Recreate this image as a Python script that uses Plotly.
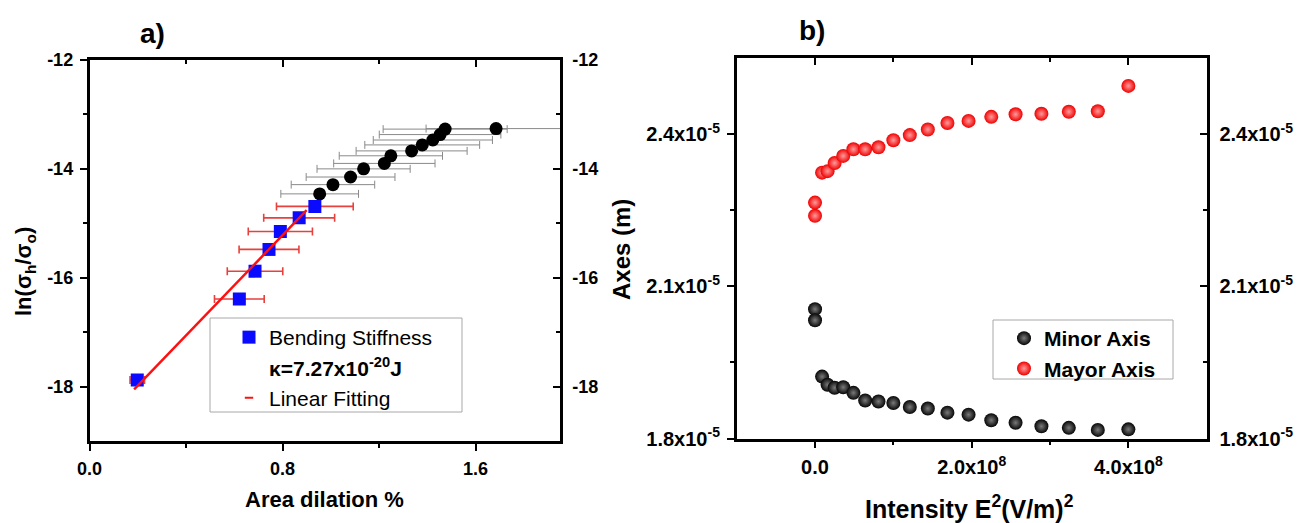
import plotly.graph_objects as go

# ---------------- panel a: area dilation vs ln(sigma_h / sigma_o) ----------------
dilation_high = [0.954, 1.009, 1.082, 1.136, 1.222, 1.249, 1.335, 1.379, 1.423, 1.453, 1.474, 1.685]
ln_sigma_high = [-14.46, -14.29, -14.15, -14.00, -13.90, -13.76, -13.67, -13.56, -13.47, -13.37, -13.27, -13.26]
dilation_high_err = [0.161, 0.173, 0.184, 0.193, 0.210, 0.214, 0.230, 0.238, 0.247, 0.252, 0.257, 0.290]

dilation_bend = [0.198, 0.621, 0.686, 0.744, 0.791, 0.869, 0.934]
ln_sigma_bend = [-17.88, -16.39, -15.88, -15.48, -15.15, -14.90, -14.69]
dilation_bend_err = [0.030, 0.103, 0.115, 0.124, 0.133, 0.147, 0.159]

fit_x = [0.185, 0.900]
fit_y = [-18.05, -14.76]

a_xticks = [0.0, 0.8, 1.6]
a_xticktext = ["0.0", "0.8", "1.6"]
a_yticks = [-18, -16, -14, -12]
a_yticktext = ["-18", "-16", "-14", "-12"]

# ---------------- panel b: ellipse axes vs field intensity ----------------
intensity_E2 = [0.0, 0.0, 9.0e6, 1.6e7, 2.5e7, 3.6e7, 4.9e7, 6.4e7, 8.1e7, 1.0e8,
                1.21e8, 1.44e8, 1.69e8, 1.96e8, 2.25e8, 2.56e8, 2.89e8, 3.24e8, 3.61e8, 4.0e8]
minor_axis = [2.055e-5, 2.033e-5, 1.922e-5, 1.906e-5, 1.900e-5, 1.901e-5, 1.890e-5, 1.875e-5,
              1.873e-5, 1.870e-5, 1.862e-5, 1.859e-5, 1.851e-5, 1.847e-5, 1.836e-5, 1.831e-5,
              1.824e-5, 1.821e-5, 1.817e-5, 1.818e-5]
major_axis = [2.239e-5, 2.265e-5, 2.324e-5, 2.327e-5, 2.343e-5, 2.357e-5, 2.370e-5, 2.370e-5,
              2.374e-5, 2.388e-5, 2.398e-5, 2.409e-5, 2.422e-5, 2.426e-5, 2.434e-5, 2.439e-5,
              2.440e-5, 2.444e-5, 2.445e-5, 2.495e-5]

b_xticks = [0.0, 2.0e8, 4.0e8]
b_xticktext = ["0.0", "2.0x10<sup>8</sup>", "4.0x10<sup>8</sup>"]
b_yticks = [1.8e-5, 2.1e-5, 2.4e-5]
b_yticktext = ["1.8x10<sup>-5</sup>", "2.1x10<sup>-5</sup>", "2.4x10<sup>-5</sup>"]

FONT = "Liberation Sans, Arial, Helvetica, sans-serif"
W, H = 1301, 523


def px_x(p):
    return p / W


def px_y(p):
    return 1 - p / H


fig = go.Figure()

# panel a traces
fig.add_trace(go.Scatter(
    x=dilation_high, y=ln_sigma_high, mode="markers", xaxis="x", yaxis="y",
    marker=dict(symbol="circle", size=13, color="black"),
    error_x=dict(type="data", array=dilation_high_err, color="#8a8a8a", thickness=1, width=4),
    showlegend=False,
))
fig.add_trace(go.Scatter(
    x=dilation_bend, y=ln_sigma_bend, mode="markers", xaxis="x", yaxis="y",
    name="Bending Stiffness", legend="legend",
    marker=dict(symbol="square", size=13, color="#0a0aff"),
    error_x=dict(type="data", array=dilation_bend_err, color="#e8403c", thickness=1.6, width=4),
))
fig.add_trace(go.Scatter(
    x=[None], y=[None], mode="markers", xaxis="x", yaxis="y",
    name="<b>κ=7.27x10<sup>-20</sup>J</b>", legend="legend",
    marker=dict(size=1, color="rgba(0,0,0,0)"),
))
fig.add_trace(go.Scatter(
    x=fit_x, y=fit_y, mode="lines", xaxis="x", yaxis="y",
    line=dict(color="#ff1010", width=2.5), showlegend=False,
))
fig.add_trace(go.Scatter(
    x=[None], y=[None], mode="markers", xaxis="x", yaxis="y",
    name="Linear Fitting", legend="legend",
    marker=dict(symbol="line-ew", size=6, color="#ff1010", line=dict(color="#ff1010", width=2)),
))

# panel b traces
fig.add_trace(go.Scatter(
    x=intensity_E2, y=minor_axis, mode="markers", xaxis="x2", yaxis="y2",
    name="<b>Minor Axis</b>", legend="legend2",
    marker=dict(symbol="circle", size=14, color="#050505",
                gradient=dict(type="radial", color="#7a7a7a"), line=dict(width=0)),
))
fig.add_trace(go.Scatter(
    x=intensity_E2, y=major_axis, mode="markers", xaxis="x2", yaxis="y2",
    name="<b>Mayor Axis</b>", legend="legend2",
    marker=dict(symbol="circle", size=14, color="#f00000",
                gradient=dict(type="radial", color="#ff9c9c"), line=dict(width=0)),
))

# transparent companions so the mirrored frame axes (top / right) get drawn
for xa, ya, xs, ys in [("x3", "y", dilation_bend, ln_sigma_bend),
                       ("x", "y3", dilation_bend, ln_sigma_bend),
                       ("x4", "y2", intensity_E2, major_axis),
                       ("x2", "y4", intensity_E2, major_axis)]:
    fig.add_trace(go.Scatter(x=xs, y=ys, xaxis=xa, yaxis=ya, mode="markers",
                             marker=dict(opacity=0, size=1), hoverinfo="skip",
                             showlegend=False))

tick_font_a = dict(family=FONT, size=18, color="black", weight="bold")
tick_font_b = dict(family=FONT, size=20, color="black", weight="bold")
axis_common = dict(
    showgrid=False, zeroline=False, showline=True, linecolor="black", linewidth=2.5,
    tickcolor="black", tickwidth=2, ticklen=7,
)


def minor(vals, side):
    return dict(tickmode="array", tickvals=vals, ticks=side, ticklen=4, tickwidth=2,
                tickcolor="black")


a_xdom = [px_x(89.5), px_x(560)]
a_ydom = [px_y(441), px_y(60)]
b_xdom = [px_x(736.7), px_x(1206.7)]
b_ydom = [px_y(438.5), px_y(58)]

a_xr = [0, 1.95]
a_yr = [-19, -12]
b_xr = [-1.0e8, 5.0e8]
b_yr = [1.8e-5, 2.55e-5]

fig.update_layout(
    width=W, height=H,
    margin=dict(l=0, r=0, t=0, b=0),
    paper_bgcolor="white", plot_bgcolor="white",
    font=dict(family=FONT, color="black"),
    template="none",
    # panel a axes
    xaxis=dict(axis_common, domain=a_xdom, anchor="y", range=a_xr, ticks="outside",
               tickfont=tick_font_a, tickmode="array", tickvals=a_xticks, ticktext=a_xticktext,
               ticklabelstandoff=3, minor=minor([0.4, 1.2], "outside")),
    yaxis=dict(axis_common, domain=a_ydom, anchor="x", range=a_yr, ticks="outside",
               tickfont=tick_font_a, tickmode="array", tickvals=a_yticks, ticktext=a_yticktext,
               ticklabelstandoff=3, minor=minor([-17, -15, -13], "outside")),
    xaxis3=dict(axis_common, overlaying="x", anchor="y", side="top", range=a_xr, ticks="inside",
                tickmode="array", tickvals=a_xticks, showticklabels=False,
                minor=minor([0.4, 1.2], "inside")),
    yaxis3=dict(axis_common, overlaying="y", anchor="x", side="right", range=a_yr, ticks="inside",
                tickfont=tick_font_a, tickmode="array", tickvals=a_yticks, ticktext=a_yticktext,
                ticklabelstandoff=6, minor=minor([-17, -15, -13], "inside")),
    # panel b axes
    xaxis2=dict(axis_common, domain=b_xdom, anchor="y2", range=b_xr, ticks="outside",
                tickfont=tick_font_b, tickmode="array", tickvals=b_xticks, ticktext=b_xticktext,
                ticklabelstandoff=2, minor=minor([1.0e8, 3.0e8], "outside")),
    yaxis2=dict(axis_common, domain=b_ydom, anchor="x2", range=b_yr, ticks="outside",
                tickfont=tick_font_b, tickmode="array", tickvals=b_yticks, ticktext=b_yticktext,
                ticklabelstandoff=3, minor=minor([1.95e-5, 2.25e-5], "outside")),
    xaxis4=dict(axis_common, overlaying="x2", anchor="y2", side="top", range=b_xr, ticks="inside",
                tickmode="array", tickvals=b_xticks, showticklabels=False,
                minor=minor([1.0e8, 3.0e8], "inside")),
    yaxis4=dict(axis_common, overlaying="y2", anchor="x2", side="right", range=b_yr, ticks="inside",
                tickfont=tick_font_b, tickmode="array", tickvals=b_yticks, ticktext=b_yticktext,
                ticklabelstandoff=6, minor=minor([1.95e-5, 2.25e-5], "inside")),
    legend=dict(x=px_x(229), y=px_y(317), xanchor="left", yanchor="top",
                bgcolor="rgba(0,0,0,0)", borderwidth=0, traceorder="normal",
                font=dict(family=FONT, size=21, color="black"), tracegroupgap=0),
    legend2=dict(x=px_x(1004), y=px_y(318), xanchor="left", yanchor="top",
                 bgcolor="rgba(0,0,0,0)", borderwidth=0, traceorder="normal",
                 font=dict(family=FONT, size=21, color="black"), tracegroupgap=0),
    showlegend=True,
)

# legend frames
fig.add_shape(type="rect", xref="paper", yref="paper",
              x0=px_x(210), x1=px_x(462), y0=px_y(412), y1=px_y(318),
              line=dict(color="#a8a8a8", width=1), fillcolor="white", layer="below")
fig.add_shape(type="rect", xref="paper", yref="paper",
              x0=px_x(993), x1=px_x(1173), y0=px_y(379), y1=px_y(320),
              line=dict(color="#a8a8a8", width=1), fillcolor="white", layer="below")

title_font = dict(family=FONT, size=22, color="black", weight="bold")
annotations = [
    dict(text="a)", x=px_x(152), y=px_y(33), font=dict(family=FONT, size=28, color="black", weight="bold")),
    dict(text="b)", x=px_x(812), y=px_y(30), font=dict(family=FONT, size=28, color="black", weight="bold")),
    dict(text="Area dilation %", x=px_x(324), y=px_y(499), font=title_font),
    dict(text="ln(σ<sub>h</sub>/σ<sub>o</sub>)", x=px_x(25), y=px_y(272), textangle=-90, font=title_font),
    dict(text="Axes (m)", x=px_x(621), y=px_y(250), textangle=-90,
         font=dict(family=FONT, size=24, color="black", weight="bold")),
    dict(text="Intensity E<sup>2</sup>(V/m)<sup>2</sup>", x=px_x(969), y=px_y(507),
         font=dict(family=FONT, size=25, color="black", weight="bold")),
]
for a in annotations:
    fig.add_annotation(xref="paper", yref="paper", xanchor="center", yanchor="middle",
                       showarrow=False, **a)

fig.write_html("out.html")
